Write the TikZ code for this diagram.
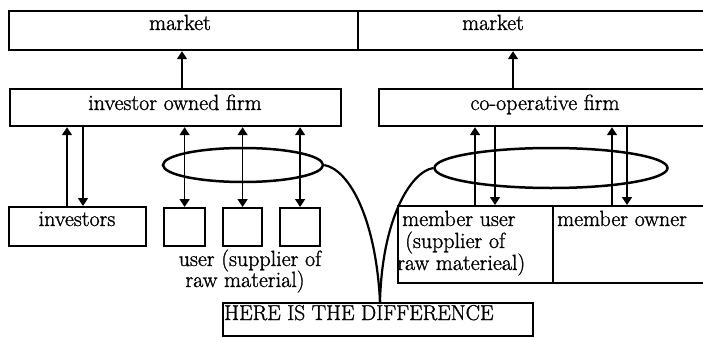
\documentclass[tikz,border=0pt]{standalone}
\usepackage{fontspec}
\newfontfamily\heavyrm{Latin Modern Roman}[FakeBold=1.2]
\usetikzlibrary{shapes.geometric,arrows.meta}
\begin{document}
\begin{tikzpicture}[x=1pt,y=-1pt,
  box/.style={draw, line width=2.2pt, inner sep=0pt, anchor=north west},
  lbl/.style={font=\heavyrm\fontsize{22}{22}\selectfont, inner sep=0pt},
  arr/.style={line width=1.5pt, -{Triangle[width=10pt,length=8pt]}},
  darr/.style={line width=1.5pt, {Triangle[width=10pt,length=8pt]}-{Triangle[width=10pt,length=8pt]}},
  oval/.style={ellipse, draw, line width=2.5pt, inner sep=0pt},
  link/.style={line width=2.2pt}]
\useasboundingbox (0,0) rectangle (703,337);
\clip (0,0) rectangle (703,337);

% markets
\node[box, minimum width=349pt, minimum height=39pt] (mkL) at (8,10) {};
\node[box, minimum width=355pt, minimum height=39pt] (mkR) at (357,10) {};
\node[lbl, anchor=base] (mkLt) at (180,30) {market};
\node[lbl, anchor=base] (mkRt) at (493,30) {market};

% firms
\node[box, minimum width=331pt, minimum height=37pt] (iof) at (9,88) {};
\node[box, minimum width=334pt, minimum height=37pt] (coop) at (378,88) {};
\node[lbl, anchor=base] (ioft) at (175,110) {investor owned firm};
\node[lbl, anchor=base] (coopt) at (545,110) {co-operative firm};

% investors and users
\node[box, minimum width=137pt, minimum height=39pt] (inv) at (8,206) {};
\node[lbl, anchor=base] (invt) at (77,226) {investors};
\node[box, minimum width=41pt, minimum height=38pt] (u1) at (163,207) {};
\node[box, minimum width=39pt, minimum height=38pt] (u2) at (222,207) {};
\node[box, minimum width=40pt, minimum height=38pt] (u3) at (279,207) {};
\node[lbl, anchor=base] (ut1) at (250,266) {user (supplier of};
\node[lbl, anchor=base] (ut2) at (245,287) {raw material)};

% members
\node[box, minimum width=155pt, minimum height=77pt] (mu) at (397,205) {};
\node[box, minimum width=160pt, minimum height=77pt] (mo) at (552,205) {};
\node[lbl, anchor=base west] (mut1) at (402,226) {member user};
\node[lbl, anchor=base west] (mut2) at (405,248) {(supplier of};
\node[lbl, anchor=base west] (mut3) at (397,270) {raw materieal)};
\node[lbl, anchor=base west] (mot) at (557,226) {member owner};

% caption box
\node[box, minimum width=310pt, minimum height=33pt] (here) at (222,302) {};
\node[font=\heavyrm\fontsize{21.5}{22}\selectfont, inner sep=0pt, anchor=base west] (heret) at (224,320) {HERE IS THE DIFFERENCE};

% arrow columns
\coordinate (xa) at (182,0);
\coordinate (xb) at (513,0);
\coordinate (xi1) at (67,0);
\coordinate (xi2) at (83,0);
\coordinate (xm1) at (475,0);
\coordinate (xm2) at (495,0);
\coordinate (xo1) at (612,0);
\coordinate (xo2) at (627,0);
\coordinate (tip) at (380,0);

\draw[arr] (iof.north -| xa) -- (mkL.south -| xa);
\draw[arr] (coop.north -| xb) -- (mkR.south -| xb);

\draw[arr] (inv.north -| xi1) -- (iof.south -| xi1);
\draw[arr] (iof.south -| xi2) -- (inv.north -| xi2);

\draw[darr] (iof.south -| u1.north) -- (u1.north);
\draw[darr] (iof.south -| u2.north) -- (u2.north);
\draw[darr] (iof.south -| u3.north) -- (u3.north);

\draw[arr] (mu.north -| xm1) -- (coop.south -| xm1);
\draw[arr] (coop.south -| xm2) -- (mu.north -| xm2);
\draw[arr] (mo.north -| xo1) -- (coop.south -| xo1);
\draw[arr] (coop.south -| xo2) -- (mo.north -| xo2);

% ovals and the lines to the caption
\node[oval, minimum width=160pt, minimum height=34pt] (elL) at (243,165) {};
\node[oval, minimum width=233pt, minimum height=40pt] (elR) at (551,168) {};
\draw[link] (elL.east) .. controls (350,170) and (376,220) .. (here.north -| tip);
\draw[link] (elR.west) .. controls (410,172) and (382,220) .. (here.north -| tip);
\end{tikzpicture}
\end{document}
